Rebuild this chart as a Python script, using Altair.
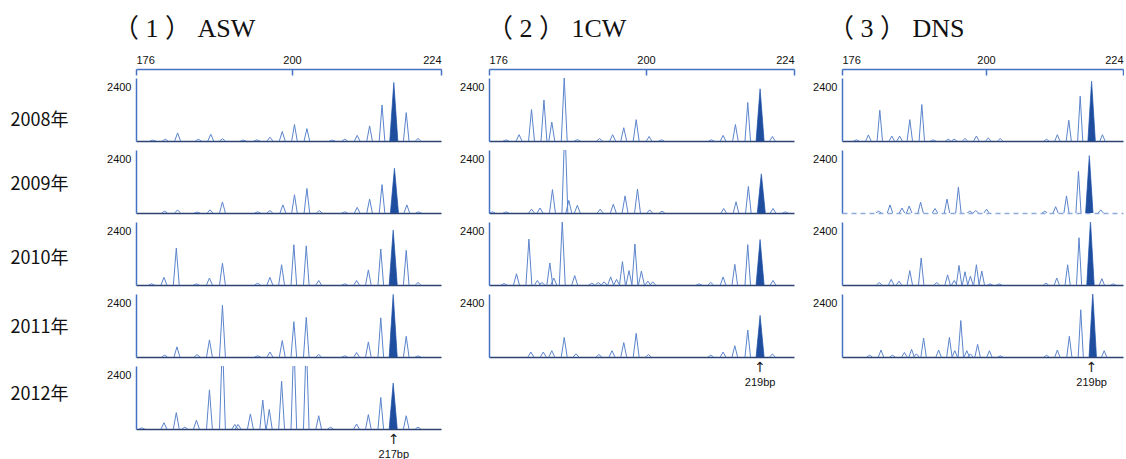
import altair as alt
import pandas as pd

# ---------------- data ----------------
YEARS = ["2008年", "2009年", "2010年", "2011年", "2012年"]
TITLES = ["（ 1 ） ASW", "（ 2 ） 1CW", "（ 3 ） DNS"]
TICKS = [176, 200, 224]
Y_TICK = [2400]
Y_MAX = 2800
TARGET_BP = [216.4, 218.5, 218.5]
TARGET_LABEL = ["217bp", "219bp", "219bp"]

# (size bp, peak height) pairs
ASW_2008 = [(178.6, 40), (180.5, 80), (182.4, 360), (185.6, 80), (187.5, 300), (189.3, 100),
            (192.5, 40), (194.6, 50), (196.6, 170), (198.5, 420), (200.4, 730), (202.4, 550),
            (206.5, 40), (208.5, 80), (210.5, 250), (212.5, 670), (214.5, 1600), (216.4, 2600),
            (218.4, 1260), (220.3, 110)]
ASW_2009 = [(180.4, 80), (182.4, 140), (185.4, 40), (187.4, 140), (189.3, 490), (194.7, 50),
            (196.6, 110), (198.6, 360), (200.4, 810), (202.4, 1090), (204.4, 110), (208.5, 50),
            (210.5, 250), (212.5, 620), (214.5, 1260), (216.5, 1990), (218.5, 360), (220.4, 50)]
ASW_2010 = [(178.4, 50), (180.3, 340), (182.2, 1640), (185.3, 50), (187.3, 310), (189.3, 970),
            (194.7, 80), (196.6, 340), (198.4, 900), (200.3, 1790), (202.3, 1740), (204.3, 200),
            (208.5, 50), (210.4, 200), (212.3, 670), (214.3, 1600), (216.3, 2440), (218.4, 1540),
            (220.3, 110)]
ASW_2011 = [(180.4, 80), (182.3, 450), (185.4, 110), (187.3, 760), (189.3, 2300), (194.7, 50),
            (196.6, 220), (198.5, 730), (200.3, 1570), (202.3, 1760), (204.3, 110), (208.5, 50),
            (210.4, 200), (212.3, 670), (214.3, 1740), (216.3, 2780), (218.4, 920), (220.3, 50)]
ASW_2012 = [(176.9, 50), (180.3, 280), (182.2, 730), (183.5, 80), (185.3, 390), (187.3, 1740),
            (189.3, 4000), (191.2, 200), (191.7, 200), (193.6, 670), (195.5, 1290), (196.5, 870),
            (198.4, 2130), (200.3, 4000), (202.3, 4000), (204.3, 590), (206.2, 80), (210.4, 220),
            (212.3, 640), (214.3, 1400), (216.3, 2040), (218.4, 590), (220.3, 80)]

CW1_2008 = [(178.6, 50), (180.6, 280), (182.5, 1400), (184.4, 1820), (185.6, 840), (187.5, 2800),
            (189.5, 60), (192.9, 110), (194.9, 280), (196.6, 590), (198.5, 950), (200.5, 200),
            (202.5, 50), (210.6, 50), (212.5, 250), (214.5, 730), (216.5, 1710), (218.5, 2320),
            (220.5, 200)]
CW1_2009 = [(176.5, 50), (178.6, 50), (182.5, 170), (183.8, 220), (185.7, 1040), (187.6, 4000),
            (188.2, 560), (189.5, 340), (193.0, 170), (195.0, 390), (196.8, 760), (198.7, 1060),
            (200.6, 140), (202.6, 80), (212.6, 200), (214.6, 500), (216.6, 1180), (218.7, 1740),
            (220.6, 200), (222.6, 50)]
CW1_2010 = [(178.3, 60), (180.2, 500), (182.1, 2040), (183.4, 200), (184.1, 110), (185.3, 980),
            (185.9, 310), (187.2, 2850), (189.1, 420), (191.7, 80), (192.7, 110), (193.6, 140),
            (194.6, 360), (195.5, 250), (196.4, 1040), (197.4, 640), (198.3, 1820), (199.3, 620),
            (200.3, 170), (201.1, 140), (208.6, 50), (210.5, 110), (212.5, 360), (214.4, 920),
            (216.5, 1790), (218.5, 2020), (220.6, 200)]
CW1_2011 = [(182.4, 220), (184.3, 220), (185.6, 280), (187.5, 870), (189.3, 140), (192.8, 110),
            (194.8, 280), (196.6, 640), (198.5, 1050), (200.4, 110), (210.5, 80), (212.5, 220),
            (214.4, 500), (216.5, 1200), (218.5, 1850), (220.5, 140)]

DNS_2008 = [(178.4, 50), (180.4, 270), (182.3, 1370), (184.3, 220), (185.6, 220), (187.3, 950),
            (189.3, 1620), (191.2, 50), (193.7, 80), (194.7, 80), (196.5, 110), (198.4, 220),
            (200.4, 140), (202.5, 110), (210.6, 80), (212.5, 280), (214.5, 920), (216.5, 1990),
            (218.5, 2660), (220.4, 280)]
DNS_2009 = [(182.1, 80), (184.0, 360), (186.0, 220), (187.2, 310), (189.1, 480), (191.5, 200),
            (193.5, 620), (195.4, 1150), (197.3, 80), (198.3, 110), (200.1, 170), (210.3, 80),
            (212.2, 280), (214.1, 760), (216.2, 1850), (218.1, 2550), (220.1, 140)]
DNS_2010 = [(182.2, 110), (184.2, 250), (185.5, 170), (187.3, 640), (189.2, 1200), (191.8, 110),
            (193.6, 450), (194.7, 200), (195.5, 870), (196.5, 590), (197.4, 390), (198.4, 900),
            (199.3, 620), (200.7, 50), (202.3, 50), (210.5, 80), (212.4, 310), (214.3, 900),
            (216.3, 2100), (218.3, 2850), (220.3, 280), (222.3, 50)]
DNS_2011 = [(180.6, 80), (182.5, 310), (184.4, 80), (186.4, 200), (187.6, 340), (188.4, 140),
            (189.6, 840), (192.1, 310), (193.9, 870), (194.8, 280), (195.8, 1620), (196.8, 280),
            (197.4, 140), (198.6, 560), (200.6, 280), (202.5, 50), (210.6, 80), (212.5, 310),
            (214.6, 920), (216.6, 2100), (218.7, 2850), (220.7, 280)]

COLUMNS = [
    [ASW_2008, ASW_2009, ASW_2010, ASW_2011, ASW_2012],
    [CW1_2008, CW1_2009, CW1_2010, CW1_2011],
    [DNS_2008, DNS_2009, DNS_2010, DNS_2011],
]

# ---------------- styling / layout ----------------
WIDTHS = [305, 305, 281]
MIDS = [156, 157, 144]
PANEL_H = 63
AXIS_H = 5
ROW_LABEL_Y = [42, 34, 36, 33, 28]
TITLE_DX = [-23, -2, -14]
HW = 0.45
HW_MAIN = 0.65

AXIS_BLUE = "#4472C4"
PEAK_LINE = "#5B84CC"
FILL = "#1F4E9E"
BASE = "#2E4372"
SANS = "Liberation Sans"
TITLE_FONT = "Liberation Serif, Noto Sans CJK JP"
CJK = "Noto Sans CJK JP"


def peak_frame(peaks, target):
    main_i = min(range(len(peaks)), key=lambda i: abs(peaks[i][0] - target))
    rows = []
    for i, (p, h) in enumerate(peaks):
        hw = HW_MAIN if i == main_i else HW
        for dx, yy in ((-hw, 0), (0, h), (hw, 0)):
            rows.append({"x": p + dx, "y": yy, "pid": i, "main": i == main_i})
    return pd.DataFrame(rows)


def xscale(c):
    return alt.Scale(domain=TICKS, range=[0, MIDS[c], WIDTHS[c]], nice=False, zero=False)


def panel(c, r, last):
    df = peak_frame(COLUMNS[c][r], TARGET_BP[c])
    dashed = (c == 2 and r == 1)
    xaxis_kw = dict(title=None, labels=False, ticks=False, grid=False,
                    domainColor="#8FAADC" if dashed else BASE, domainWidth=1.3)
    if dashed:
        xaxis_kw["domainDash"] = [5, 4]
    X = alt.X("x:Q", scale=xscale(c), axis=alt.Axis(**xaxis_kw))
    yaxis_kw = dict(values=Y_TICK, ticks=False, grid=False, domainColor=AXIS_BLUE,
                    domainWidth=1.5, labelFontSize=11, labelPadding=5, labelFont=SANS,
                    labelColor="#111111", format="d")
    if c == 0:
        yaxis_kw.update(title=YEARS[r], titleAngle=0, titleAlign="left",
                        titleBaseline="middle", titleX=-126, titleY=ROW_LABEL_Y[r],
                        titleFont=CJK, titleFontSize=18, titleFontWeight="normal",
                        titleColor="#111111")
    else:
        yaxis_kw["title"] = None
    Y = alt.Y("y:Q", scale=alt.Scale(domain=[0, Y_MAX], nice=False, zero=True),
              axis=alt.Axis(**yaxis_kw))

    base = alt.Chart(df)
    lines = base.mark_line(clip=True, color=PEAK_LINE, strokeWidth=1).encode(
        x=X, y=Y, detail="pid:N")
    area = base.transform_filter("datum.main").mark_area(
        clip=True, color=FILL, opacity=1).encode(x=X, y=Y)
    layers = [lines, area]
    if last:
        ann = pd.DataFrame({"x": [TARGET_BP[c]], "y": [0], "label": [TARGET_LABEL[c]]})
        arrow = alt.Chart(ann).mark_text(text="↑", dy=11, fontSize=14, font="DejaVu Sans",
                                         color="#222222").encode(x=X, y=Y)
        lab = alt.Chart(ann).mark_text(dy=26, fontSize=11, font=SANS, color="#111111").encode(
            x=X, y=Y, text="label:N")
        layers += [arrow, lab]
    return alt.layer(*layers).properties(width=WIDTHS[c], height=PANEL_H)


def top_axis(c):
    df = pd.DataFrame({"x": TICKS})
    return alt.Chart(df).mark_tick(opacity=0).encode(
        x=alt.X("x:Q", scale=xscale(c),
                axis=alt.Axis(orient="bottom", values=TICKS, title=None, tickSize=6,
                              labelPadding=-10, labelBaseline="bottom", labelFlush=True,
                              domainColor=AXIS_BLUE, tickColor=AXIS_BLUE, domainWidth=1.5,
                              tickWidth=1.5, labelFontSize=11, labelFont=SANS,
                              labelColor="#111111", grid=False, format="d"))
    ).properties(
        width=WIDTHS[c], height=AXIS_H,
        title=alt.Title(TITLES[c], anchor="start", frame="group", fontSize=26,
                        font=TITLE_FONT, fontWeight="normal", color="#111111",
                        dx=TITLE_DX[c], offset=12),
    )


cells = [top_axis(c) for c in range(3)]
nrows = max(len(col) for col in COLUMNS)
for r in range(nrows):
    for c in range(3):
        n = len(COLUMNS[c])
        if r < n:
            cells.append(panel(c, r, r == n - 1))

chart = alt.concat(*cells, columns=3, spacing={"row": 9, "column": 48},
                   bounds="flush").properties(
    padding={"left": 10, "top": 16, "right": 0, "bottom": 0}
).configure_view(stroke=None)

chart.save("out.html", embed_options={"renderer": "svg", "actions": False})
